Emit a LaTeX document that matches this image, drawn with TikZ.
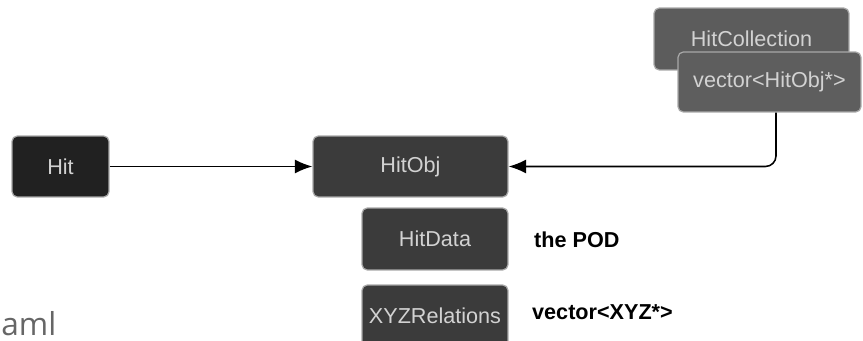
\documentclass[tikz,border=0pt]{standalone}
\usepackage{fontspec}
\setmainfont{Liberation Sans}
\newfontfamily\slidefont{Open Sans}
\usepackage{tikz}
\usetikzlibrary{arrows.meta}
\definecolor{boxedge}{HTML}{A8A8A8}
\definecolor{boxtext}{HTML}{D2D2D2}
\tikzset{>={Latex[length=10pt,width=8pt]}}
\tikzset{
  objbox/.style={draw=boxedge,line width=0.7pt,rounded corners=3pt,inner sep=0pt,
    text=boxtext,font=\fontsize{12.3}{14}\selectfont},
  conn/.style={->,line width=0.9pt,black}
}

\begin{document}
\begin{tikzpicture}[x=0.02cm,y=-0.02cm]
      \clip (0,0) rectangle (863,341);
      % objects
      \node[objbox,fill=black!87,minimum width=1.94cm,minimum height=1.22cm] (hit) at (60.5,166.5) {Hit};
      \node[objbox,fill=black!77,minimum width=3.9cm,minimum height=1.22cm] (hitobj) at (410.5,166.5) {HitObj};
      \node[objbox,fill=black!77,minimum width=2.92cm,minimum height=1.24cm] (hitdata) at (435,239) {HitData};
      \node[objbox,fill=black!77,minimum width=2.92cm,minimum height=1.24cm] (xyz) at (435,316) {XYZRelations};
      \node[objbox,fill=black!64,minimum width=3.9cm,minimum height=1.24cm] (hitcoll) at (751.5,39) {HitCollection};
      \node[objbox,fill=black!63,minimum width=3.66cm,minimum height=1.2cm] (vec) at (769.5,82) {vector<HitObj*>};
      % notes
      \node[anchor=west,font=\bfseries\fontsize{12.3}{14}\selectfont] (pod) at (528,240) {the POD};
      \node[anchor=west,font=\bfseries\fontsize{12.3}{14}\selectfont] (xyznote) at (526,312) {vector<XYZ*>};
      \node[anchor=base west,inner sep=0pt,text=black!60,font=\slidefont\fontsize{18}{22}\selectfont] (frag) at (1,336) {aml};
      % links
      \draw[conn] (hit) -- (hitobj);
      \draw[conn,rounded corners=6pt] ([xshift=0.13cm]vec.south) |- (hitobj.east);
\end{tikzpicture}
\end{document}
